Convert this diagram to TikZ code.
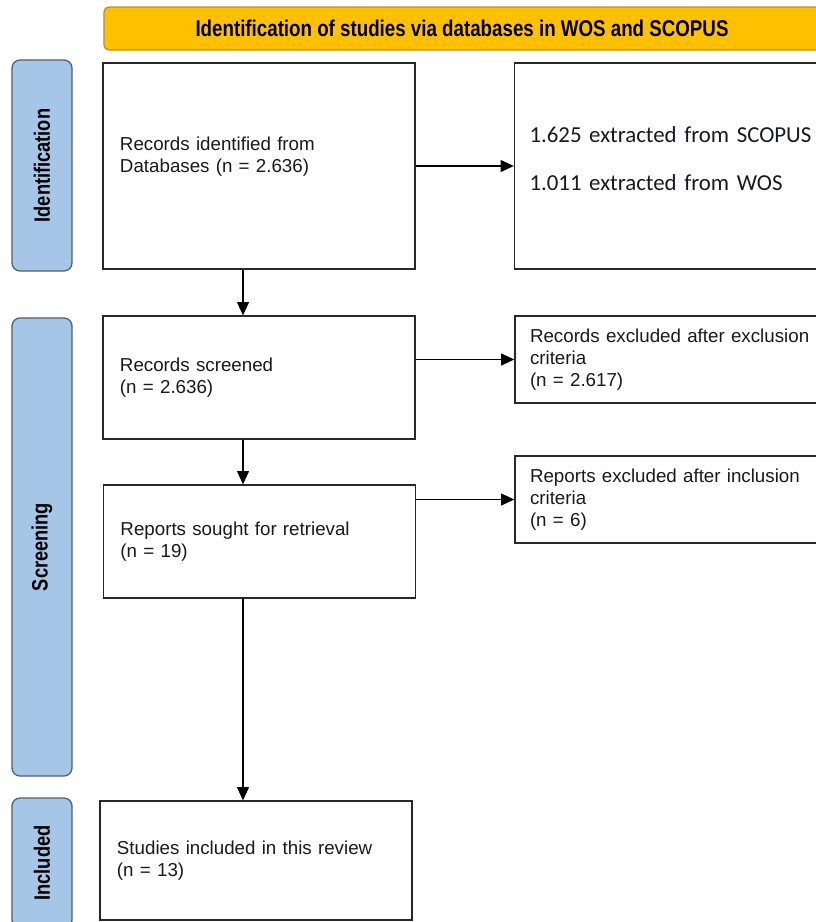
\documentclass[tikz,border=0pt]{standalone}
\usepackage{fontspec}
\setmainfont{Liberation Sans}
\newfontfamily\calibrifont{Carlito}
\newfontfamily\narrowfont[FakeStretch=0.82]{Liberation Sans}
\usepackage{tikz}
\usetikzlibrary{arrows.meta,positioning}

\definecolor{bannerFill}{RGB}{255,192,0}
\definecolor{bannerLine}{RGB}{185,145,40}
\definecolor{phaseFill}{RGB}{166,198,232}
\definecolor{phaseLine}{RGB}{85,95,110}
\definecolor{boxLine}{RGB}{40,40,40}
\definecolor{boxText}{RGB}{25,25,35}

\tikzset{
  box/.style={draw=boxLine, line width=1.1pt, fill=white, text=boxText, inner xsep=0.51cm, inner ysep=0pt,
    text width=8.34cm, align=left, font=\fontsize{16}{18.8}\selectfont},
  sidebox/.style={box, inner xsep=0.45cm, text width=8.55cm},
  banner/.style={draw=bannerLine, line width=1.1pt, fill=bannerFill, rounded corners=0.15cm,
    minimum width=21.48cm, minimum height=1.29cm, font=\narrowfont\bfseries\fontsize{19.5}{22}\selectfont},
  phase/.style={draw=phaseLine, line width=1.1pt, fill=phaseFill, rounded corners=0.24cm, rotate=90,
    minimum height=1.8cm, font=\narrowfont\bfseries\fontsize{19}{22}\selectfont},
  arr/.style={line width=1.2pt, -{Triangle[length=0.4cm,width=0.36cm]}}
}

\begin{document}
\begin{tikzpicture}[x=0.03cm,y=-0.03cm]
\useasboundingbox (0,0) rectangle (816,922);
\clip (0,0) rectangle (816,922);
\node[banner] (title) at (462,28.5) {Identification of studies via databases in WOS and SCOPUS};
\node[phase, minimum width=6.33cm] (idphase) at (42,165.5) {Identification};
\node[phase, minimum width=13.74cm] (scphase) at (42,547) {Screening};
\node[phase, minimum width=3.9cm] (inphase) at (42,863) {Included};
\node[box, minimum height=6.18cm] (ident) at (259,166) {Records identified from\\Databases (n = 2.636)\\ \mbox{}};
\node[sidebox, minimum height=6.18cm, font=\calibrifont\fontsize{19.5}{23}\selectfont] (sources) at (672,166)
  {1.625 extracted from SCOPUS\\[18pt]1.011 extracted from WOS\\[-11pt]\mbox{}};
\node[box, minimum height=3.69cm] (screened) at (259,377.5) {Records screened\\(n = 2.636)};
\node[sidebox, minimum height=2.61cm] (excl) at (672.5,359.5) {Records excluded after exclusion\\criteria\\(n = 2.617)};
\node[box, minimum height=3.39cm] (sought) at (259.5,541.5) {Reports sought for retrieval\\(n = 19)};
\node[sidebox, minimum height=2.61cm] (incl) at (672.5,499.5) {Reports excluded after inclusion\\criteria\\(n = 6)};
\node[box, minimum height=3.57cm] (studies) at (256,860.5) {Studies included in this review\\(n = 13)};
\coordinate (spine) at (243,0);
\foreach \a/\b in {ident/screened,screened/sought,sought/studies}
  \draw[arr] (\a.south -| spine) -- (\b.north -| spine);
\draw[arr] (ident.east) -- (sources.west);
\draw[arr] (screened.east |- excl.west) -- (excl.west);
\draw[arr] (sought.east |- incl.west) -- (incl.west);
\end{tikzpicture}
\end{document}
